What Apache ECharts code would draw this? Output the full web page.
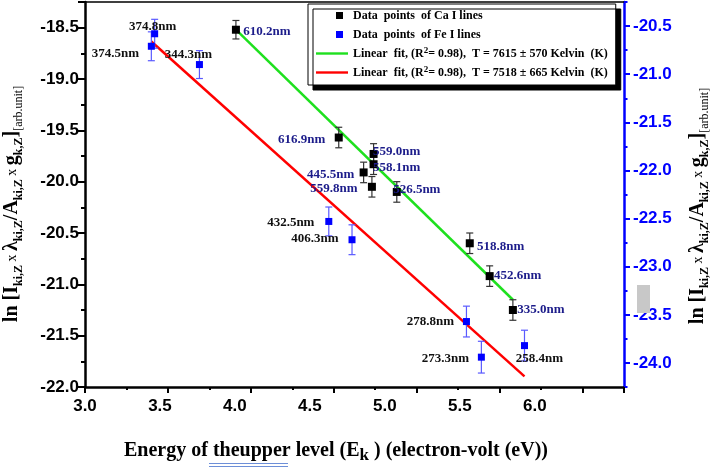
<!DOCTYPE html>
<html><head><meta charset="utf-8">
<script src="https://cdn.jsdelivr.net/npm/echarts@6/dist/echarts.min.js"></script>
<style>html,body{margin:0;padding:0;background:#fff}#c{width:710px;height:469px}</style>
</head><body><div id="c"></div>
<script>
// ---------- data ----------
const caLines = ['610.2nm','616.9nm','559.0nm','558.1nm','445.5nm','559.8nm','526.5nm','518.8nm','452.6nm','335.0nm'];
const caEnergy = [3.91, 4.53, 4.74, 4.74, 4.68, 4.73, 4.88, 5.32, 5.44, 5.58];
const caLnValue = [-18.52, -19.57, -19.73, -19.83, -19.91, -20.05, -20.10, -20.60, -20.92, -21.25];
const caError = [0.09, 0.10, 0.10, 0.10, 0.10, 0.10, 0.10, 0.10, 0.10, 0.10];

const feLines = ['374.8nm','374.5nm','344.3nm','432.5nm','406.3nm','278.8nm','273.3nm','258.4nm'];
const feEnergy = [3.42, 3.40, 3.69, 4.47, 4.61, 5.30, 5.39, 5.65];
const feLnValue = [-20.58, -20.71, -20.90, -22.53, -22.72, -23.57, -23.94, -23.82];
const feError = [0.15, 0.15, 0.145, 0.15, 0.155, 0.16, 0.165, 0.16];

const caFitEnergy = [3.91, 5.58];
const caFitValue = [-18.52, -21.15];
const feFitEnergy = [3.40, 5.65];
const feFitValue = [-20.66, -24.14];

const xTickLabels = [3.0, 3.5, 4.0, 4.5, 5.0, 5.5, 6.0];
const leftTickLabels = [-22.0, -21.5, -21.0, -20.5, -20.0, -19.5, -19.0, -18.5];
const rightTickLabels = [-24.0, -23.5, -23.0, -22.5, -22.0, -21.5, -21.0, -20.5];

const legendNames = ['Data points of Ca I lines', 'Data points of Fe I lines', 'Linear fit Ca', 'Linear fit Fe'];
const legendTexts = {
  'Data points of Ca I lines': 'Data  points  of Ca I lines',
  'Data points of Fe I lines': 'Data  points  of Fe I lines',
  'Linear fit Ca': 'Linear  fit, (R{sup|2}= 0.98),  T = 7615 \u00b1 570 Kelvin  (K)',
  'Linear fit Fe': 'Linear  fit, (R{sup|2}= 0.98),  T = 7518 \u00b1 665 Kelvin  (K)'
};

// label placement (offset of label centre from its point, px)
const caLabelOffset = [[31,2],[-37,2],[23,-2],[23,3],[-33,2],[-38,2],[20,-2],[31,3],[28,0],[28,0]];
const feLabelOffset = [[-2,-7],[-36,7],[-11,-10],[-38,1],[-37,-1],[-36,0],[-36,1],[15,13]];

// ---------- chart ----------
const SERIF = 'Liberation Serif, Times New Roman, serif';
const SANS = 'Liberation Sans, Arial, sans-serif';

function errorBars(xs, ys, errs, color, yIdx) {
  return {
    type: 'custom', xAxisIndex: 0, yAxisIndex: yIdx, silent: true, z: 3,
    data: xs.map((x, i) => [x, ys[i] - errs[i], ys[i] + errs[i]]),
    encode: { x: 0, y: [1, 2] },
    renderItem(params, api) {
      const x = api.value(0);
      const lo = api.coord([x, api.value(1)]);
      const hi = api.coord([x, api.value(2)]);
      const w = 3.5;
      const st = { stroke: color, lineWidth: 1.2 };
      return { type: 'group', children: [
        { type: 'line', shape: { x1: lo[0], y1: lo[1], x2: hi[0], y2: hi[1] }, style: st },
        { type: 'line', shape: { x1: lo[0] - w, y1: lo[1], x2: lo[0] + w, y2: lo[1] }, style: st },
        { type: 'line', shape: { x1: hi[0] - w, y1: hi[1], x2: hi[0] + w, y2: hi[1] }, style: st }
      ]};
    }
  };
}

const labelBase = { show: true, position: 'inside', fontFamily: SERIF, fontWeight: 'bold', fontSize: 13 };

const caData = caEnergy.map((e, i) => ({
  name: caLines[i], value: [e, caLnValue[i]],
  label: Object.assign({}, labelBase, { offset: caLabelOffset[i], formatter: caLines[i], color: '#1c1c8a' })
}));
const feData = feEnergy.map((e, i) => ({
  name: feLines[i], value: [e, feLnValue[i]],
  label: Object.assign({}, labelBase, { offset: feLabelOffset[i], formatter: feLines[i], color: '#111' })
}));

const yTitle = '{b|ln [I}{s|ki,Z}{x| x }{b|\u03bb}{s|ki,Z}{b|/A}{s|ki,Z}{x| x }{b|g}{s|k,Z}{b|]}{u|[arb.unit]}';
const yRich = {
  b: { fontFamily: SERIF, fontWeight: 'bold', fontSize: 20, lineHeight: 26, fill: '#000' },
  s: { fontFamily: SERIF, fontWeight: 'bold', fontSize: 12, lineHeight: 13, verticalAlign: 'bottom', fill: '#000' },
  x: { fontFamily: SERIF, fontSize: 14, lineHeight: 26, fill: '#000' },
  u: { fontFamily: SERIF, fontSize: 12, lineHeight: 13, verticalAlign: 'bottom', fill: '#000' }
};

const squareIcon = 'path://M0,0L0,0M20,1h7v7h-7zM32,9L32,9';
const lineIcon = 'path://M0,0L0,0M0,3.3h32v2.4h-32zM32,9L32,9';

const option = {
  animation: false,
  backgroundColor: '#fff',
  grid: { left: 85, right: 86, top: 2, bottom: 82, outerBoundsMode: 'none', containLabel: false },
  xAxis: [
    { type: 'value', min: 3.0, max: 6.25, interval: 0.5, position: 'bottom',
      axisLine: { show: true, onZero: false, lineStyle: { color: '#000', width: 2.5 } },
      axisTick: { show: true, inside: false, length: 6, lineStyle: { color: '#000', width: 2 } },
      minorTick: { show: true, splitNumber: 2, length: 3, lineStyle: { color: '#000', width: 2 } },
      axisLabel: { show: false }, splitLine: { show: false } },
    { type: 'value', min: 3.0, max: 6.595, position: 'bottom',
      axisLine: { show: false }, axisTick: { show: false }, splitLine: { show: false },
      axisLabel: { show: true, customValues: xTickLabels, margin: 11, formatter: v => v.toFixed(1),
        fontFamily: SANS, fontWeight: 'bold', fontSize: 17, color: '#000' } },
    { type: 'value', min: 3.0, max: 6.25, position: 'top',
      axisLine: { show: true, onZero: false, lineStyle: { color: '#000', width: 1.5 } },
      axisTick: { show: false }, axisLabel: { show: false }, splitLine: { show: false } }
  ],
  yAxis: [
    { type: 'value', min: -22.0, max: -18.25, interval: 0.5, position: 'left',
      axisLine: { show: true, onZero: false, lineStyle: { color: '#000', width: 2.5 } },
      axisTick: { show: true, inside: false, length: 7, lineStyle: { color: '#000', width: 2 } },
      minorTick: { show: true, splitNumber: 2, length: 4, lineStyle: { color: '#000', width: 2 } },
      axisLabel: { show: true, customValues: leftTickLabels, margin: 6, formatter: v => v.toFixed(1),
        fontFamily: SANS, fontWeight: 'bold', fontSize: 17, color: '#000' },
      splitLine: { show: false } },
    { type: 'value', min: -24.25, max: -20.25, interval: 0.25, position: 'right',
      axisLine: { show: true, onZero: false, lineStyle: { color: '#0000ff', width: 2.5 } },
      axisTick: { show: true, inside: false, length: 3.5, lineStyle: { color: '#0000ff', width: 2 } },
      axisLabel: { show: false }, splitLine: { show: false } },
    { type: 'value', min: -24.25, max: -20.25, position: 'right',
      axisLine: { show: false },
      axisTick: { show: true, inside: false, length: 6, customValues: rightTickLabels, lineStyle: { color: '#0000ff', width: 2 } },
      axisLabel: { show: true, customValues: rightTickLabels, margin: 9, formatter: v => v.toFixed(1),
        fontFamily: SANS, fontWeight: 'bold', fontSize: 17, color: '#0000ff' },
      splitLine: { show: false } }
  ],
  legend: {
    orient: 'vertical', left: 308, top: 4,
    padding: [4, 8, 5, 8], itemGap: 4, itemWidth: 32, itemHeight: 9,
    backgroundColor: '#fff', borderColor: '#000', borderWidth: 1,
    shadowColor: '#000', shadowBlur: 0, shadowOffsetX: 5, shadowOffsetY: 5,
    selectedMode: false,
    textStyle: { fontFamily: SERIF, fontWeight: 'bold', fontSize: 12, color: '#000', lineHeight: 15,
      rich: { sup: { fontFamily: SERIF, fontWeight: 'bold', fontSize: 9, lineHeight: 15, verticalAlign: 'top', padding: [0, 0, 4, 0] } } },
    data: [
      { name: legendNames[0], icon: squareIcon, itemStyle: { color: '#000' } },
      { name: legendNames[1], icon: squareIcon, itemStyle: { color: '#0000ff' } },
      { name: legendNames[2], icon: lineIcon, itemStyle: { color: '#1ee01e' } },
      { name: legendNames[3], icon: lineIcon, itemStyle: { color: '#ff0000' } }
    ],
    formatter: name => legendTexts[name]
  },
  graphic: [
    { type: 'text', x: 336, y: 451, z: 10,
      style: { text: '{b|Energy of theupper level (E}{k|k}{b| ) (electron-volt (eV))}',
        align: 'center', verticalAlign: 'middle',
        rich: {
          b: { fontFamily: SERIF, fontWeight: 'bold', fontSize: 20, lineHeight: 26, fill: '#000' },
          k: { fontFamily: SERIF, fontWeight: 'bold', fontSize: 17, lineHeight: 17, verticalAlign: 'bottom', fill: '#000' }
        } } },
    { type: 'line', z: 10, shape: { x1: 209, y1: 463.5, x2: 288, y2: 463.5 }, style: { stroke: '#6d8fd8', lineWidth: 1 } },
    { type: 'line', z: 10, shape: { x1: 209, y1: 466.5, x2: 288, y2: 466.5 }, style: { stroke: '#6d8fd8', lineWidth: 1 } },
    { type: 'rect', z: 10, shape: { x: 637, y: 285, width: 13, height: 28 }, style: { fill: '#c8c8c8' } },
    { type: 'text', x: 12, y: 204, rotation: Math.PI / 2, z: 10,
      style: { text: yTitle, align: 'center', verticalAlign: 'middle', rich: yRich } },
    { type: 'text', x: 698, y: 206, rotation: Math.PI / 2, z: 10,
      style: { text: yTitle, align: 'center', verticalAlign: 'middle', rich: yRich } }
  ],
  series: [
    { name: legendNames[2], type: 'line', xAxisIndex: 0, yAxisIndex: 0, z: 2,
      data: caFitEnergy.map((e, i) => [e, caFitValue[i]]), showSymbol: false, symbol: 'none',
      lineStyle: { color: '#1ee01e', width: 2.5 }, itemStyle: { color: '#1ee01e' }, silent: true },
    { name: legendNames[3], type: 'line', xAxisIndex: 0, yAxisIndex: 1, z: 2,
      data: feFitEnergy.map((e, i) => [e, feFitValue[i]]), showSymbol: false, symbol: 'none',
      lineStyle: { color: '#ff0000', width: 2.5 }, itemStyle: { color: '#ff0000' }, silent: true },
    errorBars(caEnergy, caLnValue, caError, '#333333', 0),
    errorBars(feEnergy, feLnValue, feError, '#5a5aff', 1),
    { name: legendNames[0], type: 'scatter', xAxisIndex: 0, yAxisIndex: 0, z: 4,
      symbol: 'rect', symbolSize: 8, itemStyle: { color: '#000', opacity: 1 }, data: caData },
    { name: legendNames[1], type: 'scatter', xAxisIndex: 0, yAxisIndex: 1, z: 4,
      symbol: 'rect', symbolSize: 7, itemStyle: { color: '#0000ff', opacity: 1 }, data: feData }
  ]
};

const chart = echarts.init(document.getElementById('c'), null, { renderer: 'canvas', width: 710, height: 469 });
chart.setOption(option);
</script>
</body></html>
